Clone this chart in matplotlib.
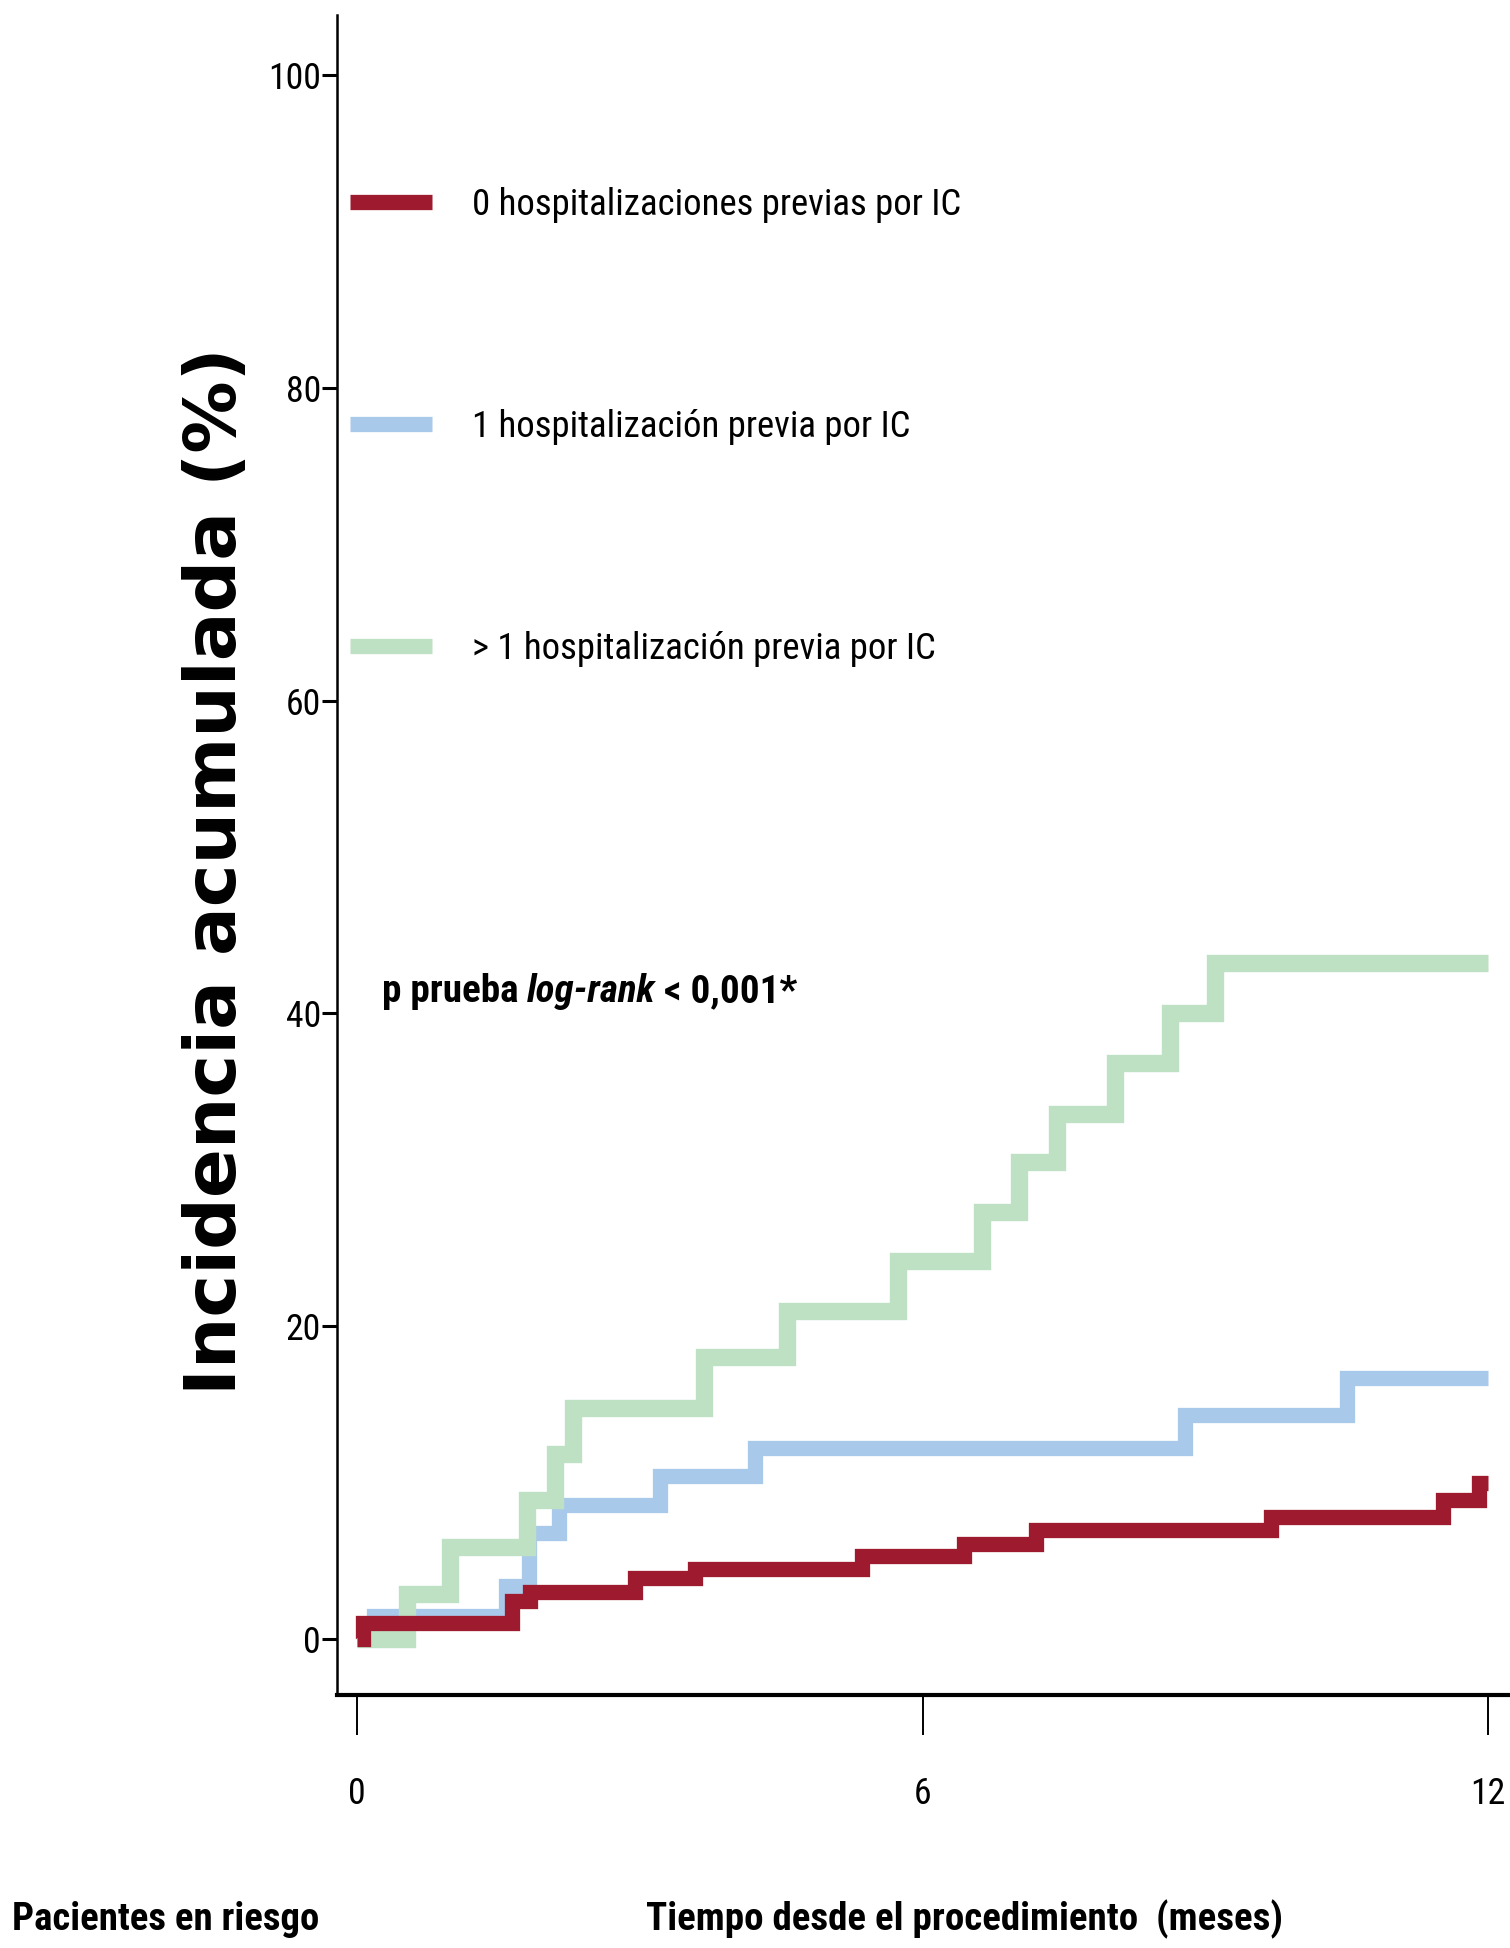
import matplotlib
matplotlib.use("Agg")
import matplotlib.pyplot as plt
from matplotlib import font_manager
from matplotlib.font_manager import FontProperties
from matplotlib.ft2font import FT2Font

# ---------------- data (months, cumulative incidence %) ----------------
labels = ["0 hospitalizaciones previas por IC",
          "1 hospitalización previa por IC",
          "> 1 hospitalización previa por IC"]

t_0 = [0, 0.06, 1.65, 1.84, 2.95, 3.59, 5.36, 6.44, 7.20, 9.70, 11.52, 11.90, 12.0]
y_0 = [0, 1.0, 2.4, 3.0, 3.9, 4.5, 5.3, 6.1, 7.0, 7.8, 8.9, 10.0, 10.0]

t_1 = [0, 0.18, 1.58, 1.82, 2.14, 3.21, 4.22, 8.78, 10.50, 12.0]
y_1 = [0, 1.5, 3.4, 6.8, 8.6, 10.4, 12.2, 14.3, 16.7, 16.7]

t_2 = [0, 0.53, 0.99, 1.80, 2.10, 2.29, 3.68, 4.56, 5.74, 6.63, 7.02, 7.43, 8.04, 8.63, 9.10, 12.0]
y_2 = [0, 2.9, 5.9, 8.9, 11.8, 14.8, 18.0, 21.0, 24.2, 27.3, 30.5, 33.6, 36.8, 40.0, 43.2, 43.2]

x_ticks = [0, 6, 12]
y_ticks = [0, 20, 40, 60, 80, 100]

colors = ["#9E1B2F", "#A9C9EA", "#BEE0C3"]

# ---------------- figure ----------------
W, H = 1510, 1948
fig = plt.figure(figsize=(W / 100, H / 100), dpi=100)
ax = fig.add_axes([337 / W, 1 - 1695 / H, (1508 - 337) / W, (1695 - 15) / H])
fig.canvas.draw()
R = fig.canvas.get_renderer()


def width_px(s, fp):
    t = fig.text(0, 0, s, fontproperties=fp)
    w = t.get_window_extent(R).width
    t.remove()
    return w


# ---------------- choose the most condensed Latin sans font installed ----------------
def wnum(w):
    if isinstance(w, str):
        return font_manager.weight_dict.get(w, 400)
    return int(w)


need = set("0123456789 abcdefghijklmnopqrstuvwxyzICPT-<,*()>ó")
ok_prefix = ("Liberation", "Noto Sans", "Roboto", "Open Sans", "DejaVu", "Lato", "Inter", "Arial")
pool = []
for f in font_manager.fontManager.ttflist:
    if not f.name.startswith(ok_prefix):
        continue
    if any(b in f.name for b in ("Mono", "CJK", "Math", "Symbol")):
        continue
    if not f.fname.lower().endswith((".ttf", ".otf")):
        continue
    try:
        cmap = FT2Font(f.fname).get_charmap()
    except Exception:
        continue
    if not all(ord(c) in cmap for c in need):
        continue
    pool.append(f)

SAMPLE = "hospitalizaciones previas"


def sample_w(f):
    try:
        return width_px(SAMPLE, FontProperties(fname=f.fname, size=20))
    except Exception:
        return 1e9


regs = [f for f in pool if f.style == "normal" and 350 <= wnum(f.weight) <= 450]
reg_w = {f.fname: sample_w(f) for f in regs}
REG = min(regs, key=lambda f: reg_w[f.fname]) if regs else None


def sibling(style):
    if REG is None:
        return None
    cands = [f for f in pool if f.name == REG.name and f.style == style and wnum(f.weight) >= 600]
    if not cands:
        return None
    target = reg_w[REG.fname] * 1.06
    return min(cands, key=lambda f: abs(sample_w(f) - target) + 0.01 * abs(wnum(f.weight) - 700))


BOLD = sibling("normal")
BOLDIT = sibling("italic") or sibling("oblique")


def FP(size=20, weight="normal", style="normal"):
    f = REG
    if weight == "bold":
        f = BOLDIT if style == "italic" and BOLDIT is not None else BOLD
    if f is None:
        return FontProperties(family="Liberation Sans", size=size, weight=weight, style=style)
    return FontProperties(fname=f.fname, size=size)


def fit(s, target, weight="normal", style="normal"):
    return 20 * target / width_px(s, FP(20, weight, style))


# ---------------- curves ----------------
lw = 11
l1, = ax.step(t_1, y_1, where="post", color=colors[1], lw=lw,
              solid_joinstyle="miter", solid_capstyle="butt")
l2, = ax.step(t_2, y_2, where="post", color=colors[2], lw=lw + 1.5,
              solid_joinstyle="miter", solid_capstyle="butt")
l0, = ax.step(t_0, y_0, where="post", color=colors[0], lw=lw,
              solid_joinstyle="miter", solid_capstyle="butt")

ax.set_xlim(-0.212, 12.212)
ax.set_ylim(-3.58, 103.84)
ax.set_xticks(x_ticks)
ax.set_yticks(y_ticks)
ax.set_xticklabels([str(v) for v in x_ticks])
ax.set_yticklabels([str(v) for v in y_ticks])

tick_fs = fit("100", 53)
for lab in ax.get_xticklabels() + ax.get_yticklabels():
    lab.set_fontproperties(FP(tick_fs))

for s in ["top", "right"]:
    ax.spines[s].set_visible(False)
ax.spines["left"].set_linewidth(1.8)
ax.spines["bottom"].set_linewidth(3.0)
tick_px = tick_fs * 100 / 72
xpad_px = 1791 - 0.42 * tick_px - 1735
ax.tick_params(axis="x", direction="out", length=29, width=1.4, pad=xpad_px * 0.72, colors="black")
ax.tick_params(axis="y", direction="out", length=11, width=2.2, pad=0.5, colors="black")

# ---------------- legend ----------------
leg_fs = fit(labels[0], 488)
leg_px = leg_fs * 100 / 72
row_gap = 222.0
labelspacing = row_gap / leg_px - 1.17


def make_legend(ls, anchor):
    lg = ax.legend([l0, l1, l2], labels, loc="upper left",
                   bbox_to_anchor=anchor, frameon=False,
                   prop=FP(leg_fs), handlelength=82 / leg_px, handletextpad=40 / leg_px,
                   labelspacing=ls, borderpad=0, borderaxespad=0)
    for lh in lg.get_lines():
        lh.set_linewidth(lw)
        lh.set_solid_capstyle("butt")
    return lg


ax_h = 1695 - 15
anchor = (13 / 1171, 1 - (205 - 0.6 * leg_px - 15) / ax_h)
leg = make_legend(labelspacing, anchor)
fig.canvas.draw()
cy = [(H - 0.5 * (t.get_window_extent(R).y0 + t.get_window_extent(R).y1)) for t in leg.get_texts()]
gap = (cy[2] - cy[0]) / 2
labelspacing += (row_gap - gap) / leg_px
shift = cy[0] - 205
anchor = (anchor[0], anchor[1] + shift / ax_h)
leg.remove()
leg = make_legend(labelspacing, anchor)

# ---------------- p-value text (bold, with italic log-rank) ----------------
parts = [("p prueba", "normal"), ("log-rank", "italic"), ("< 0,001*", "normal")]
w_parts = [width_px(s, FP(20, "bold", st)) for s, st in parts]
sp = width_px("a a", FP(20, "bold")) - width_px("aa", FP(20, "bold"))
total = sum(w_parts) + 2 * sp
k = 415 / total
p_fs = 20 * k
x = 382.0
for (s, st), w in zip(parts, w_parts):
    fig.text(x / W, 1 - 1002 / H, s, fontproperties=FP(p_fs, "bold", st),
             ha="left", va="baseline")
    x += (w + sp) * k

# ---------------- axis titles ----------------
fig.text(217 / W, 1 - 871 / H, "Incidencia acumulada (%)", rotation=90,
         family="DejaVu Sans", fontweight="bold", fontsize=52,
         ha="center", va="center")

s1 = "Pacientes en riesgo"
fig.text(12 / W, 1 - 1930 / H, s1, fontproperties=FP(fit(s1, 305, "bold"), "bold"),
         ha="left", va="baseline")
s2 = "Tiempo desde el procedimiento  (meses)"
fig.text(646 / W, 1 - 1930 / H, s2, fontproperties=FP(fit(s2, 634, "bold"), "bold"),
         ha="left", va="baseline")

fig.savefig("out.png", dpi=100)
